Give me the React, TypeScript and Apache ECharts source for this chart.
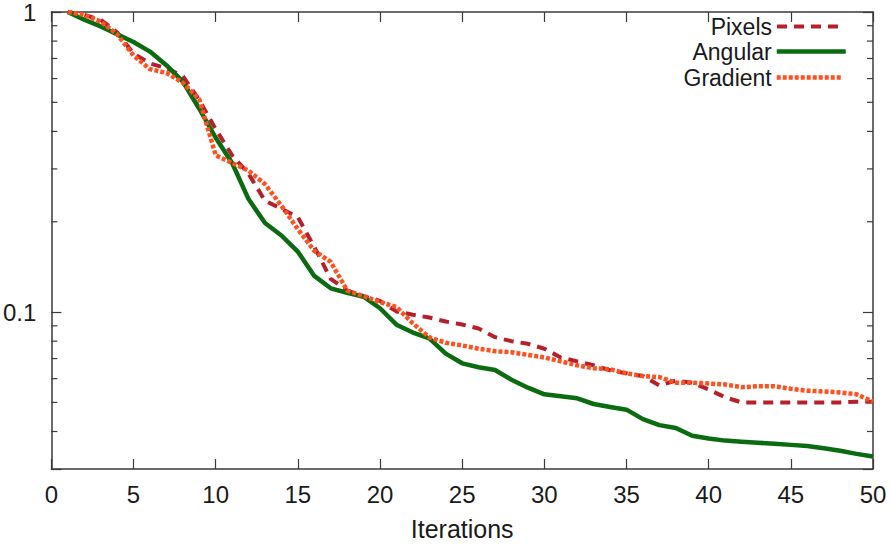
import React, { useEffect, useRef } from "react";
import * as echarts from "echarts";

const iterations = [
  1, 2, 3, 4, 5, 6, 7, 8, 9, 10, 11, 12, 13, 14, 15, 16, 17, 18, 19, 20, 21, 22, 23, 24, 25,
  26, 27, 28, 29, 30, 31, 32, 33, 34, 35, 36, 37, 38, 39, 40, 41, 42, 43, 44, 45, 46, 47, 48, 49, 50,
];

const pixels = [
  1.0, 0.978, 0.942, 0.856, 0.727, 0.674, 0.65, 0.612, 0.509, 0.407,
  0.333, 0.289, 0.235, 0.221, 0.207, 0.165, 0.129, 0.118, 0.113, 0.109,
  0.1005, 0.098, 0.0959, 0.093, 0.0909, 0.0882, 0.0825, 0.08, 0.0784, 0.0755,
  0.0706, 0.0685, 0.0665, 0.064, 0.0625, 0.0612, 0.057, 0.0591, 0.0582, 0.0552,
  0.052, 0.05, 0.05, 0.05, 0.05, 0.05, 0.05, 0.05, 0.0503, 0.0503,
];

const angular = [
  1.0, 0.942, 0.895, 0.843, 0.794, 0.738, 0.665, 0.586, 0.476, 0.381,
  0.314, 0.238, 0.198, 0.18, 0.159, 0.132, 0.12, 0.116, 0.1125, 0.103,
  0.0908, 0.0855, 0.0818, 0.0727, 0.0675, 0.0655, 0.0641, 0.0595, 0.056, 0.0532,
  0.0524, 0.0516, 0.0494, 0.0483, 0.0473, 0.044, 0.042, 0.0411, 0.0387, 0.0379,
  0.0373, 0.037, 0.0367, 0.0364, 0.0361, 0.0358, 0.0352, 0.0345, 0.0337, 0.033,
];

const gradient = [
  1.0, 0.978, 0.93, 0.843, 0.716, 0.645, 0.627, 0.581, 0.512, 0.333,
  0.314, 0.296, 0.267, 0.226, 0.189, 0.16, 0.147, 0.118, 0.113, 0.108,
  0.104, 0.0917, 0.0824, 0.079, 0.0774, 0.0755, 0.0741, 0.0735, 0.072, 0.0706,
  0.0685, 0.0665, 0.065, 0.0645, 0.0625, 0.0612, 0.0607, 0.0582, 0.0582, 0.0578,
  0.0574, 0.0562, 0.0566, 0.0566, 0.0555, 0.0547, 0.0544, 0.054, 0.0532, 0.0503,
];

const yMajorLabels = [
  { value: 1, text: "1" },
  { value: 0.1, text: "0.1" },
];

const yMinorTicks = [0.04, 0.05, 0.06, 0.07, 0.08, 0.09, 0.2, 0.3, 0.4, 0.5, 0.6, 0.7, 0.8, 0.9];

const seriesNames = ["Pixels", "Angular", "Gradient"];

export default function App() {
  const ref = useRef<HTMLDivElement>(null);

  useEffect(() => {
    document.body.style.margin = "0";
    const chart = echarts.init(ref.current as HTMLDivElement, null, { renderer: "svg" });
    const font = "'Liberation Sans', Arial, Helvetica, sans-serif";
    const axisColor = "#3a3a3a";
    const textColor = "#1a1a1a";
    const toPairs = (ys: number[]) => iterations.map((x, i) => [x, ys[i]]);

    const axisLine = { show: true, onZero: false, lineStyle: { color: axisColor, width: 1.5 } };
    const axisTick = { show: true, inside: true, length: 10, lineStyle: { color: axisColor, width: 1.2 } };

    const legendBase = {
      orient: "vertical",
      align: "right",
      itemHeight: 14,
      padding: 0,
      itemGap: 0,
      selectedMode: false,
      itemStyle: { opacity: 0 },
      textStyle: { fontSize: 23, fontFamily: font, color: textColor },
    };

    chart.setOption({
      animation: false,
      backgroundColor: "#ffffff",
      grid: { left: 47, right: 17, top: 7, bottom: 69, containLabel: false },
      legend: [
        { ...legendBase, data: [seriesNames[0]], right: 48, top: 15, itemWidth: 63, lineStyle: { width: 4 } },
        { ...legendBase, data: [seriesNames[1]], right: 42, top: 40, itemWidth: 69, lineStyle: { width: 4.5 } },
        { ...legendBase, data: [seriesNames[2]], right: 45, top: 66, itemWidth: 66, lineStyle: { width: 4.5 } },
      ],
      xAxis: [
        {
          type: "value",
          min: 0,
          max: 50,
          interval: 5,
          position: "bottom",
          axisLine,
          axisTick,
          splitLine: { show: false },
          axisLabel: { margin: 13, fontSize: 24, fontFamily: font, color: textColor },
          name: "Iterations",
          nameLocation: "middle",
          nameGap: 47,
          nameTextStyle: { fontSize: 25, fontFamily: font, color: textColor },
        },
        {
          type: "value",
          min: 0,
          max: 50,
          interval: 5,
          position: "top",
          axisLine,
          axisTick,
          splitLine: { show: false },
          axisLabel: { show: false },
        },
      ],
      yAxis: [
        {
          type: "log",
          logBase: 10,
          min: 0.03,
          max: 1,
          position: "left",
          axisLine,
          axisTick,
          splitLine: { show: false },
          axisLabel: {
            margin: 15,
            fontSize: 24,
            fontFamily: font,
            color: textColor,
            formatter: (v: number) => {
              const hit = yMajorLabels.find((m) => Math.abs(v - m.value) < m.value * 1e-6);
              return hit ? hit.text : "";
            },
          },
        },
        {
          type: "log",
          logBase: 10,
          min: 0.03,
          max: 1,
          position: "right",
          axisLine,
          axisTick,
          splitLine: { show: false },
          axisLabel: { show: false },
        },
      ],
      series: [
        {
          type: "custom",
          xAxisIndex: 0,
          yAxisIndex: 0,
          silent: true,
          clip: false,
          z: 1,
          data: yMinorTicks.map((v) => [0, v]),
          renderItem: (params: any, api: any) => {
            const v = api.value(1);
            const l = api.coord([0, v]);
            const r = api.coord([50, v]);
            const style = { stroke: axisColor, lineWidth: 1.2 };
            return {
              type: "group",
              children: [
                { type: "line", shape: { x1: l[0], y1: l[1], x2: l[0] + 6, y2: l[1] }, style },
                { type: "line", shape: { x1: r[0] - 6, y1: r[1], x2: r[0], y2: r[1] }, style },
              ],
            };
          },
        },
        {
          name: seriesNames[0],
          type: "line",
          data: toPairs(pixels),
          symbol: "none",
          showSymbol: false,
          z: 3,
          itemStyle: { color: "#b5202a" },
          lineStyle: { color: "#b5202a", width: 4, type: [10, 7], join: "round" },
        },
        {
          name: seriesNames[1],
          type: "line",
          data: toPairs(angular),
          symbol: "none",
          showSymbol: false,
          z: 4,
          itemStyle: { color: "#0b6b10" },
          lineStyle: { color: "#0b6b10", width: 4.5, type: "solid", join: "round" },
        },
        {
          name: seriesNames[2],
          type: "line",
          data: toPairs(gradient),
          symbol: "none",
          showSymbol: false,
          z: 5,
          itemStyle: { color: "#ff5020" },
          lineStyle: { color: "#ff5020", width: 4.5, type: [4, 2], join: "round" },
        },
      ],
    });

    return () => chart.dispose();
  }, []);

  return <div ref={ref} style={{ width: 890, height: 546 }} />;
}
